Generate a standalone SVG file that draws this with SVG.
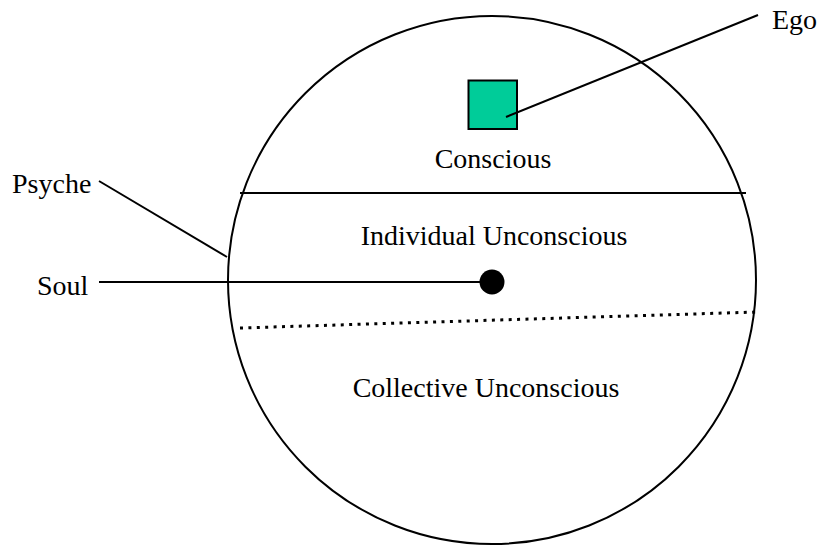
<svg xmlns="http://www.w3.org/2000/svg" width="820" height="545" viewBox="0 0 820 545">
<style>
text{font-family:"Liberation Serif","Times New Roman",serif;font-size:28px;fill:#000}
.ln{stroke:#000;stroke-width:2;fill:none}
</style>
<rect width="820" height="545" fill="#fff"/>
<g id="psyche">
<circle cx="492" cy="280" r="264" class="ln"/>
</g>
<g id="dividers">
<line x1="240" y1="193" x2="746" y2="193" class="ln"/>
<line x1="240" y1="328" x2="757" y2="312" stroke="#000" stroke-width="3" stroke-dasharray="3 5.4"/>
</g>
<g id="ego-box">
<rect x="468.5" y="80.5" width="48.5" height="48.5" fill="#00CC99" stroke="#000" stroke-width="2"/>
</g>
<g id="soul-dot">
<circle cx="492" cy="282" r="12.5" fill="#000"/>
</g>
<g id="connectors">
<line x1="506" y1="117" x2="758" y2="15" class="ln"/>
<line x1="99" y1="181" x2="227" y2="257" class="ln"/>
<line x1="99" y1="282" x2="482" y2="282" class="ln"/>
</g>
<g id="labels">
<text x="772" y="29">Ego</text>
<text x="12" y="193">Psyche</text>
<text x="37" y="295">Soul</text>
<text x="493" y="168" text-anchor="middle">Conscious</text>
<text x="494" y="245" text-anchor="middle">Individual Unconscious</text>
<text x="486" y="397" text-anchor="middle">Collective Unconscious</text>
</g>
</svg>
